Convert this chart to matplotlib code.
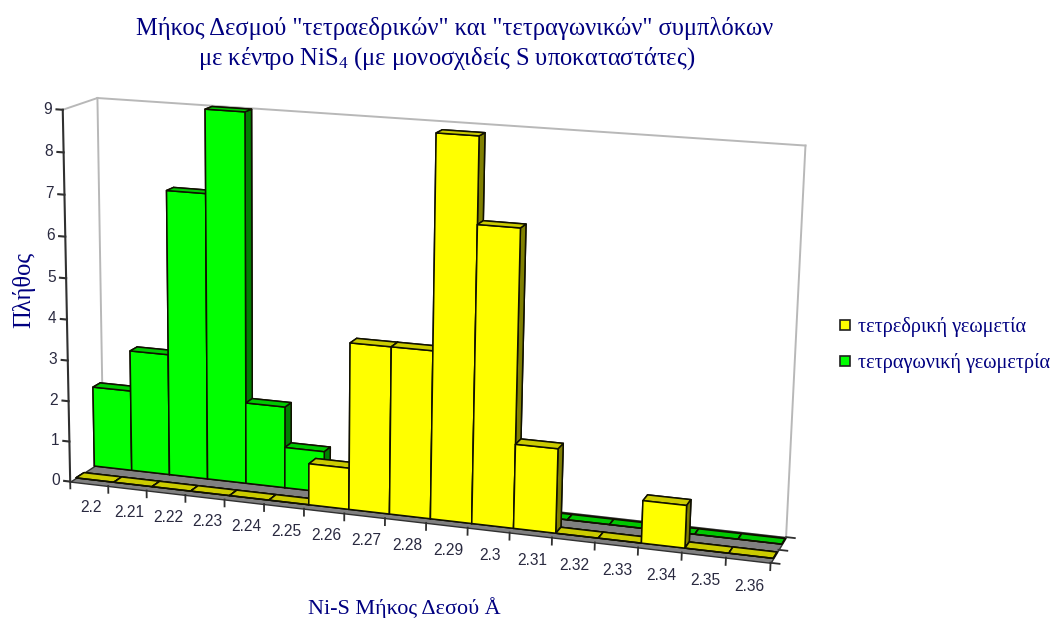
import numpy as np, matplotlib
matplotlib.use('Agg')
import matplotlib.pyplot as plt
from matplotlib.lines import Line2D
from mpl_toolkits.mplot3d import proj3d
from mpl_toolkits.mplot3d.art3d import Poly3DCollection

categories = ['2.2','2.21','2.22','2.23','2.24','2.25','2.26','2.27','2.28','2.29','2.3','2.31','2.32','2.33','2.34','2.35','2.36']
tetrahedral = [0,0,0,0,0,0,1,4,4,9,7,2,0,0,1,0,0]
square_planar = [2,3,7,9,2,1,0,0,0,0,0,0,0,0,0,0,0]
count_ticks = list(range(0,10))

NAVY='#000080'; TICK='#2a2a40'
SERIF='Liberation Serif'; SANS='Liberation Sans'
plt.rcParams['mathtext.default']='regular'
plt.rcParams['mathtext.fontset']='custom'
plt.rcParams['mathtext.rm']=SERIF

W,H=1053,618
fig=plt.figure(figsize=(W/100,H/100),dpi=100,facecolor='white')
s=4416.27
size=s*0.185
cx,cy=420.85-s*0.0025,296.67-s*0.0025
ax=fig.add_axes([(cx-size/2)/W,(cy-size/2)/H,size/W,size/H],projection='3d')
ax.set_xlim(0,17,view_margin=0);ax.set_ylim(0,1,view_margin=0);ax.set_zlim(0,9,view_margin=0)
ax.view_init(13.8878,-72.0401,-0.7842)
ax.set_proj_type('persp',focal_length=0.5883)
ax.set_box_aspect((1,0.111,0.531))
ax.set_axis_off()
ax.patch.set_alpha(0)
ax.computed_zorder=False

n=len(categories); zmax=count_ticks[-1]
z=[1]
def nz():
    z[0]+=1
    return z[0]
def label(x,y,zv,txt,**kw):
    px,py,_=proj3d.proj_transform(x,y,zv,ax.get_proj())
    ax.text2D(px,py,txt,transform=ax.transData,family=SANS,fontsize=11.2,color=TICK,va='center',**kw)

# floor
floor=Poly3DCollection([[(0,0,0),(n,0,0),(n,1,0),(0,1,0)]],facecolor='#808080',edgecolor='#303030',linewidth=1,zorder=nz())
ax.add_collection3d(floor)
# walls
wall='#b8b8b8'
for xs,ys,zs in [([0,0],[1,1],[0,zmax]),([0,n],[1,1],[zmax,zmax]),([n,n],[1,1],[zmax,0]),([0,0],[0,1],[zmax,zmax])]:
    ax.plot(xs,ys,zs,color=wall,lw=1.4,zorder=nz())
# z axis
ax.plot([0,0],[0,0],[0,zmax],color='#303030',lw=1.5,zorder=nz())
for k in count_ticks:
    ax.plot([-0.16,0],[0,0],[k,k],color='#303030',lw=1.5,zorder=nz())
    label(-0.27,0,k,str(k),ha='right')
# x ticks and labels
for i,lab in enumerate(categories):
    ax.plot([i,i],[0,0],[0,-0.17],color='#303030',lw=1.3,zorder=nz())
    label(i+0.55,0,-0.6,lab,ha='center')
ax.plot([n,n],[0,0],[0,-0.17],color='#303030',lw=1.3,zorder=nz())
for y in (0,0.5,1):
    ax.plot([n,n+0.2],[y,y],[0,0],color='#303030',lw=1.3,zorder=nz())

def bars(vals,y0,dy,face,top,side):
    for i,v in enumerate(vals):
        cols=[top,top,face,face,side,side]
        ax.bar3d(i,y0,0,1,dy,v,color=cols,edgecolor='#101000',linewidth=1.1,shade=False,zorder=nz())

bars(square_planar,0.72,0.22,'#00ff00','#00c800','#008000')
bars(tetrahedral,0.17,0.24,'#ffff00','#cccc00','#808000')

fig.text(455/W,1-28/H,'Μήκος Δεσμού "τετραεδρικών" και "τετραγωνικών" συμπλόκων',ha='center',va='center',family=SERIF,fontsize=17.7,color=NAVY)
fig.text(447/W,1-59/H,'με κέντρο NiS$_4$ (με μονοσχιδείς S υποκαταστάτες)',ha='center',va='center',family=SERIF,fontsize=17.7,color=NAVY)
fig.text(24/W,1-290/H,'Πλήθος',rotation=90,ha='center',va='center',family=SERIF,fontsize=17.7,color=NAVY)
fig.text(404/W,1-608/H,'Ni-S Μήκος Δεσού Å',ha='center',va='center',family=SERIF,fontsize=15.9,color=NAVY)

h=[Line2D([],[],ls='',marker='s',ms=7,mfc=c,mec='#202020',mew=1.2) for c in ('#ffff00','#00ff00')]
fig.legend(h,['τετρεδρική γεωμετία','τετραγωνική γεωμετρία'],loc='center left',bbox_to_anchor=(837/W,1-345/H),frameon=False,
           prop={'family':SERIF,'size':14.6},labelcolor=NAVY,handlelength=0.8,handletextpad=0.25,labelspacing=0.76,borderpad=0,borderaxespad=0)
fig.savefig('out.png',dpi=100,facecolor='white')
